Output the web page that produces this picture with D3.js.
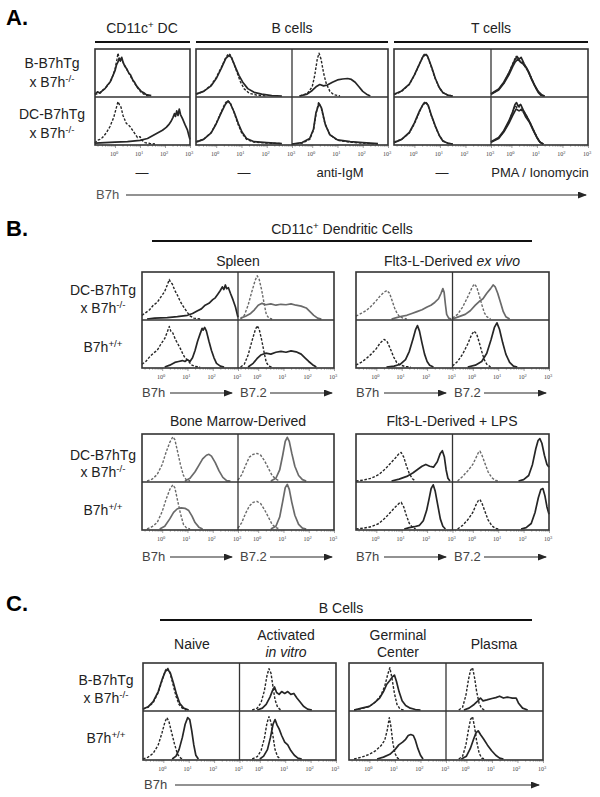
<!DOCTYPE html>
<html lang="en">
<head>
<meta charset="utf-8">
<title>B7h flow histograms</title>
<script src="https://d3js.org/d3.v7.min.js"></script>
<style>
  body { margin: 0; background: #fff; }
</style>
</head>
<body>
<div id="fig"></div>
<script>
// histogram curves: [log10 intensity, relative count]
// --- A. CD11c+ DC
const aDcTop_iso = [[-0.8,0.03],[-0.6,0.08],[-0.45,0.14],[-0.3,0.22],[-0.15,0.35],[0,0.58],[0.08,0.8],[0.12,0.93],[0.18,0.78],[0.25,0.82],[0.32,0.74],[0.45,0.6],[0.6,0.45],[0.75,0.3],[0.9,0.18],[1.05,0.08],[1.2,0.02],[1.4,0]];
const aDcTop_b7h = [[-0.8,0.04],[-0.7,0.09],[-0.6,0.06],[-0.5,0.12],[-0.4,0.16],[-0.3,0.24],[-0.2,0.3],[-0.1,0.42],[0,0.55],[0.06,0.68],[0.12,0.74],[0.17,0.82],[0.22,0.76],[0.27,0.84],[0.33,0.72],[0.4,0.64],[0.48,0.58],[0.55,0.5],[0.62,0.46],[0.7,0.36],[0.78,0.3],[0.86,0.22],[0.95,0.16],[1.05,0.1],[1.15,0.07],[1.25,0.03],[1.45,0.01]];
const aDcBot_iso = [[-0.8,0.02],[-0.72,0.08],[-0.6,0.1],[-0.5,0.14],[-0.35,0.24],[-0.2,0.38],[-0.05,0.58],[0.05,0.78],[0.12,0.92],[0.18,0.85],[0.24,0.8],[0.32,0.62],[0.45,0.45],[0.6,0.38],[0.7,0.3],[0.8,0.22],[0.9,0.14],[1.0,0.16],[1.08,0.08],[1.2,0.03],[1.4,0.01],[1.6,0]];
const aDcBot_b7h = [[-0.8,0.02],[-0.4,0.03],[0,0.04],[0.5,0.05],[1.0,0.08],[1.3,0.12],[1.5,0.18],[1.7,0.24],[1.9,0.3],[2.05,0.36],[2.15,0.42],[2.25,0.5],[2.32,0.58],[2.38,0.66],[2.42,0.6],[2.47,0.72],[2.52,0.62],[2.57,0.76],[2.62,0.64],[2.7,0.55],[2.8,0.42],[2.9,0.3],[2.97,0.15],[3.0,0.1]];
// --- A. B cells, unstimulated
const aB0Top_iso = [[-0.8,0.04],[-0.5,0.1],[-0.2,0.24],[0,0.4],[0.2,0.62],[0.35,0.8],[0.48,0.92],[0.55,0.9],[0.65,0.78],[0.8,0.55],[0.95,0.32],[1.1,0.16],[1.3,0.06],[1.6,0.02],[2.0,0]];
const aB0Top_b7h = [[-0.8,0.04],[-0.5,0.1],[-0.2,0.22],[0,0.38],[0.2,0.6],[0.38,0.82],[0.5,0.88],[0.6,0.84],[0.75,0.64],[0.9,0.45],[1.05,0.3],[1.25,0.16],[1.5,0.08],[1.8,0.04],[2.2,0.01],[2.6,0]];
const aB0Bot_iso = [[-0.8,0.05],[-0.5,0.1],[-0.2,0.25],[0,0.45],[0.2,0.7],[0.35,0.88],[0.45,0.95],[0.55,0.9],[0.7,0.7],[0.85,0.45],[1.0,0.25],[1.2,0.1],[1.5,0.04],[2,0.02],[2.6,0.01]];
const aB0Bot_b7h = [[-0.8,0.04],[-0.5,0.1],[-0.2,0.24],[0,0.44],[0.2,0.68],[0.36,0.86],[0.46,0.93],[0.56,0.88],[0.72,0.68],[0.88,0.44],[1.02,0.26],[1.2,0.12],[1.5,0.05],[2,0.03],[2.6,0.01]];
// --- A. B cells, anti-IgM
const aBmTop_iso = [[-0.5,0],[-0.2,0.05],[0,0.2],[0.1,0.45],[0.2,0.8],[0.27,0.93],[0.35,0.8],[0.45,0.5],[0.55,0.28],[0.7,0.1],[0.85,0.03],[1.1,0]];
const aBmTop_b7h = [[-0.5,0],[-0.2,0.04],[0,0.12],[0.15,0.2],[0.3,0.25],[0.45,0.22],[0.6,0.24],[0.8,0.3],[1.0,0.35],[1.2,0.37],[1.4,0.38],[1.55,0.36],[1.7,0.3],[1.85,0.2],[2.0,0.1],[2.15,0.04],[2.3,0]];
const aBmBot_iso = [[-0.8,0],[-0.4,0.02],[-0.1,0.1],[0.05,0.3],[0.15,0.65],[0.25,0.9],[0.35,0.8],[0.5,0.45],[0.7,0.2],[1.0,0.08],[1.5,0.04],[2,0.02],[2.6,0]];
const aBmBot_b7h = [[-0.8,0],[-0.4,0.03],[-0.1,0.12],[0.05,0.32],[0.15,0.68],[0.27,0.88],[0.37,0.78],[0.52,0.42],[0.7,0.2],[1.0,0.09],[1.5,0.05],[2,0.03],[2.6,0.01]];
// --- A. T cells, unstimulated
const aT0Top_iso = [[-0.8,0.03],[-0.5,0.1],[-0.2,0.25],[0,0.45],[0.2,0.7],[0.35,0.88],[0.42,0.93],[0.5,0.88],[0.65,0.65],[0.8,0.4],[0.95,0.2],[1.1,0.08],[1.3,0.02],[1.5,0]];
const aT0Top_b7h = [[-0.8,0.04],[-0.5,0.11],[-0.2,0.26],[0,0.46],[0.2,0.7],[0.34,0.86],[0.44,0.9],[0.52,0.86],[0.68,0.62],[0.82,0.38],[0.98,0.18],[1.12,0.07],[1.3,0.02],[1.5,0]];
const aT0Bot_iso = [[-0.8,0.04],[-0.5,0.1],[-0.2,0.24],[0,0.44],[0.2,0.7],[0.35,0.88],[0.43,0.92],[0.52,0.86],[0.66,0.62],[0.82,0.38],[0.96,0.2],[1.1,0.08],[1.3,0.02],[1.5,0]];
const aT0Bot_b7h = [[-0.8,0.03],[-0.5,0.1],[-0.2,0.25],[0,0.46],[0.2,0.72],[0.34,0.86],[0.45,0.9],[0.54,0.84],[0.68,0.6],[0.84,0.36],[0.98,0.18],[1.12,0.06],[1.3,0.02],[1.5,0]];
// --- A. T cells, PMA / ionomycin
const aTpTop_iso = [[-0.8,0.04],[-0.5,0.14],[-0.3,0.28],[-0.1,0.5],[0.05,0.7],[0.18,0.86],[0.28,0.78],[0.4,0.76],[0.55,0.62],[0.7,0.5],[0.85,0.3],[1.0,0.14],[1.1,0.05],[1.25,0]];
const aTpTop_b7h = [[-0.8,0.05],[-0.5,0.15],[-0.3,0.3],[-0.1,0.5],[0.05,0.68],[0.15,0.8],[0.22,0.86],[0.3,0.8],[0.38,0.84],[0.5,0.7],[0.65,0.55],[0.8,0.35],[0.95,0.18],[1.05,0.08],[1.15,0.02],[1.3,0]];
const aTpTop_b7h2 = [[-0.8,0.04],[-0.5,0.13],[-0.3,0.27],[-0.1,0.46],[0.05,0.64],[0.15,0.74],[0.25,0.8],[0.35,0.74],[0.45,0.7],[0.6,0.6],[0.75,0.42],[0.9,0.24],[1.05,0.1],[1.2,0.02],[1.3,0]];
const aTpBot_iso = [[-0.8,0.04],[-0.5,0.13],[-0.3,0.27],[-0.1,0.48],[0.05,0.7],[0.15,0.84],[0.22,0.78],[0.3,0.82],[0.42,0.7],[0.55,0.66],[0.7,0.5],[0.85,0.32],[1.0,0.15],[1.1,0.05],[1.25,0]];
const aTpBot_b7h = [[-0.8,0.05],[-0.5,0.14],[-0.3,0.29],[-0.1,0.5],[0.05,0.7],[0.14,0.86],[0.2,0.9],[0.27,0.82],[0.36,0.86],[0.46,0.74],[0.6,0.6],[0.75,0.44],[0.9,0.26],[1.02,0.12],[1.12,0.04],[1.25,0]];
const aTpBot_b7h2 = [[-0.8,0.04],[-0.5,0.12],[-0.3,0.26],[-0.1,0.45],[0.05,0.62],[0.18,0.76],[0.3,0.72],[0.42,0.76],[0.55,0.6],[0.7,0.48],[0.85,0.3],[1.0,0.14],[1.12,0.04],[1.25,0]];

// --- B. Spleen
const bSpB7hTop_iso = [[-0.8,0.08],[-0.65,0.14],[-0.5,0.2],[-0.35,0.3],[-0.2,0.36],[-0.05,0.48],[0.1,0.6],[0.2,0.74],[0.28,0.86],[0.33,0.8],[0.4,0.76],[0.5,0.62],[0.6,0.52],[0.7,0.4],[0.8,0.3],[0.9,0.22],[1.0,0.14],[1.1,0.07],[1.25,0.02],[1.5,0]];
const bSpB7hTop_b7h = [[-0.6,0],[-0.3,0.02],[0.2,0.03],[0.6,0.05],[1.0,0.08],[1.2,0.12],[1.4,0.18],[1.55,0.22],[1.7,0.3],[1.85,0.34],[2.0,0.42],[2.1,0.46],[2.2,0.54],[2.3,0.62],[2.38,0.7],[2.44,0.64],[2.5,0.74],[2.55,0.66],[2.62,0.68],[2.7,0.56],[2.8,0.42],[2.9,0.26],[2.97,0.1],[3.0,0.04]];
const bSpB7hBot_iso = [[-0.8,0.06],[-0.65,0.12],[-0.5,0.22],[-0.35,0.3],[-0.2,0.36],[-0.05,0.5],[0.1,0.62],[0.2,0.76],[0.28,0.88],[0.34,0.78],[0.42,0.74],[0.52,0.6],[0.62,0.5],[0.72,0.4],[0.82,0.28],[0.9,0.2],[0.98,0.16],[1.05,0.12],[1.15,0.05],[1.3,0.01],[1.5,0]];
const bSpB7hBot_b7h = [[0.1,0],[0.3,0.04],[0.5,0.1],[0.65,0.12],[0.8,0.14],[0.9,0.12],[1.0,0.16],[1.1,0.12],[1.2,0.2],[1.3,0.36],[1.4,0.56],[1.5,0.72],[1.58,0.84],[1.62,0.8],[1.68,0.86],[1.75,0.78],[1.85,0.56],[1.95,0.36],[2.05,0.2],[2.15,0.08],[2.3,0.02],[2.45,0]];
const bSpB72Top_iso = [[-0.7,0],[-0.55,0.08],[-0.4,0.3],[-0.25,0.6],[-0.12,0.84],[-0.04,0.94],[0.04,0.86],[0.14,0.62],[0.24,0.32],[0.32,0.1],[0.42,0.02],[0.55,0]];
const bSpB72Top_b7h = [[-0.7,0.02],[-0.5,0.06],[-0.3,0.12],[-0.15,0.2],[0,0.3],[0.15,0.34],[0.3,0.31],[0.5,0.33],[0.7,0.3],[0.9,0.32],[1.1,0.31],[1.3,0.33],[1.5,0.3],[1.7,0.28],[1.9,0.24],[2.05,0.16],[2.2,0.08],[2.35,0.02],[2.5,0]];
const bSpB72Bot_iso = [[-0.7,0],[-0.55,0.06],[-0.4,0.26],[-0.25,0.56],[-0.12,0.8],[-0.04,0.9],[0.04,0.82],[0.14,0.58],[0.24,0.3],[0.32,0.1],[0.42,0.02],[0.55,0]];
const bSpB72Bot_b7h = [[-0.4,0],[-0.2,0.08],[-0.05,0.18],[0.1,0.26],[0.3,0.3],[0.5,0.28],[0.7,0.32],[0.9,0.34],[1.1,0.32],[1.3,0.35],[1.5,0.33],[1.7,0.28],[1.85,0.2],[2.0,0.12],[2.15,0.05],[2.3,0]];
// --- B. Flt3-L ex vivo
const bExB7hTop_iso = [[-0.8,0.06],[-0.6,0.12],[-0.4,0.18],[-0.2,0.28],[0,0.4],[0.15,0.5],[0.3,0.58],[0.42,0.62],[0.52,0.56],[0.62,0.4],[0.72,0.24],[0.82,0.12],[0.92,0.05],[1.05,0.02],[1.2,0]];
const bExB7hTop_b7h = [[0.6,0],[0.8,0.03],[1.0,0.06],[1.2,0.08],[1.4,0.12],[1.6,0.16],[1.8,0.2],[2.0,0.26],[2.15,0.3],[2.3,0.36],[2.45,0.44],[2.55,0.56],[2.62,0.66],[2.67,0.58],[2.72,0.32],[2.77,0.1],[2.85,0.02],[2.95,0]];
const bExB7hBot_iso = [[-0.8,0.04],[-0.6,0.1],[-0.4,0.18],[-0.2,0.28],[0,0.4],[0.15,0.52],[0.3,0.6],[0.42,0.56],[0.55,0.4],[0.68,0.22],[0.8,0.1],[0.95,0.04],[1.15,0.01],[1.35,0]];
const bExB7hBot_b7h = [[0.4,0],[0.7,0.02],[0.95,0.06],[1.15,0.16],[1.3,0.34],[1.45,0.62],[1.55,0.82],[1.62,0.9],[1.7,0.78],[1.8,0.52],[1.9,0.28],[2.0,0.12],[2.1,0.04],[2.25,0]];
const bExB72Top_iso = [[-0.8,0.02],[-0.6,0.1],[-0.4,0.26],[-0.2,0.48],[-0.05,0.66],[0.05,0.76],[0.15,0.7],[0.25,0.52],[0.35,0.32],[0.45,0.14],[0.55,0.05],[0.7,0]];
const bExB72Top_b7h = [[-0.8,0],[-0.6,0.04],[-0.3,0.1],[-0.1,0.18],[0.1,0.3],[0.25,0.38],[0.4,0.44],[0.55,0.56],[0.7,0.66],[0.8,0.74],[0.88,0.7],[0.98,0.56],[1.1,0.34],[1.2,0.16],[1.3,0.05],[1.45,0]];
const bExB72Bot_iso = [[-0.8,0.02],[-0.6,0.12],[-0.4,0.28],[-0.2,0.5],[-0.05,0.7],[0.05,0.78],[0.15,0.72],[0.25,0.54],[0.35,0.34],[0.45,0.16],[0.55,0.06],[0.7,0]];
const bExB72Bot_b7h = [[-0.2,0],[0.1,0.04],[0.35,0.12],[0.55,0.3],[0.72,0.6],[0.85,0.86],[0.95,0.96],[1.05,0.82],[1.18,0.52],[1.3,0.28],[1.45,0.1],[1.6,0.02],[1.75,0]];
// --- B. Bone marrow-derived
const bBmB7hTop_iso = [[-0.6,0],[-0.4,0.04],[-0.2,0.14],[0,0.36],[0.15,0.62],[0.3,0.84],[0.42,0.96],[0.5,0.9],[0.6,0.66],[0.72,0.36],[0.84,0.12],[0.95,0.03],[1.1,0]];
const bBmB7hTop_b7h = [[0.9,0],[1.1,0.06],[1.3,0.2],[1.45,0.34],[1.6,0.48],[1.75,0.56],[1.85,0.58],[1.95,0.54],[2.1,0.4],[2.25,0.22],[2.4,0.08],[2.55,0.01],[2.7,0]];
const bBmB7hBot_iso = [[-0.6,0],[-0.4,0.05],[-0.2,0.14],[0,0.38],[0.15,0.64],[0.3,0.86],[0.42,0.96],[0.5,0.9],[0.6,0.64],[0.72,0.34],[0.84,0.1],[0.95,0.03],[1.1,0]];
const bBmB7hBot_b7h = [[-0.1,0],[0.1,0.06],[0.3,0.22],[0.45,0.36],[0.6,0.44],[0.75,0.46],[0.9,0.45],[1.05,0.4],[1.18,0.28],[1.3,0.14],[1.45,0.04],[1.6,0]];
const bBmB72Top_iso = [[-0.8,0.02],[-0.65,0.14],[-0.5,0.34],[-0.35,0.52],[-0.2,0.58],[-0.05,0.6],[0.1,0.56],[0.25,0.44],[0.4,0.28],[0.55,0.12],[0.7,0.04],[0.85,0]];
const bBmB72Top_b7h = [[0.5,0],[0.7,0.06],[0.85,0.24],[0.97,0.56],[1.07,0.86],[1.15,0.95],[1.23,0.86],[1.33,0.6],[1.45,0.32],[1.6,0.12],[1.75,0.03],[1.9,0]];
const bBmB72Bot_iso = [[-0.8,0.02],[-0.65,0.14],[-0.5,0.34],[-0.35,0.5],[-0.2,0.58],[-0.05,0.6],[0.1,0.55],[0.25,0.42],[0.4,0.26],[0.55,0.1],[0.7,0.03],[0.85,0]];
const bBmB72Bot_b7h = [[0.5,0],[0.7,0.06],[0.85,0.26],[0.97,0.6],[1.07,0.9],[1.15,0.97],[1.23,0.86],[1.33,0.58],[1.45,0.3],[1.6,0.1],[1.75,0.02],[1.9,0]];
// --- B. Flt3-L-derived + LPS
const bLpB7hTop_iso = [[-0.8,0],[-0.5,0.02],[-0.2,0.06],[0.1,0.14],[0.35,0.26],[0.55,0.38],[0.75,0.5],[0.9,0.6],[0.98,0.62],[1.08,0.52],[1.18,0.34],[1.3,0.16],[1.42,0.05],[1.55,0]];
const bLpB7hTop_b7h = [[0.6,0],[0.9,0.04],[1.2,0.1],[1.45,0.18],[1.65,0.26],[1.8,0.32],[1.95,0.36],[2.1,0.32],[2.25,0.3],[2.4,0.42],[2.52,0.6],[2.6,0.66],[2.68,0.52],[2.75,0.24],[2.82,0.06],[2.9,0]];
const bLpB7hBot_iso = [[-0.8,0],[-0.5,0.02],[-0.2,0.05],[0.1,0.12],[0.35,0.24],[0.55,0.36],[0.75,0.48],[0.9,0.56],[0.98,0.58],[1.08,0.48],[1.18,0.3],[1.3,0.12],[1.42,0.04],[1.55,0]];
const bLpB7hBot_b7h = [[1.1,0],[1.3,0.03],[1.5,0.05],[1.7,0.08],[1.85,0.18],[1.98,0.4],[2.08,0.66],[2.16,0.88],[2.24,0.96],[2.32,0.82],[2.42,0.52],[2.52,0.22],[2.62,0.06],[2.72,0]];
const bLpB72Top_iso = [[-0.6,0],[-0.4,0.1],[-0.2,0.22],[0,0.36],[0.12,0.5],[0.22,0.62],[0.28,0.65],[0.36,0.56],[0.48,0.38],[0.6,0.2],[0.75,0.07],[0.9,0.01],[1.05,0]];
const bLpB72Top_b7h = [[1.8,0],[2.0,0.03],[2.2,0.12],[2.35,0.36],[2.48,0.7],[2.57,0.88],[2.64,0.92],[2.72,0.82],[2.82,0.56],[2.92,0.36],[3.0,0.3]];
const bLpB72Bot_iso = [[-0.6,0],[-0.4,0.08],[-0.2,0.2],[0,0.36],[0.12,0.52],[0.22,0.62],[0.28,0.64],[0.36,0.56],[0.48,0.38],[0.6,0.2],[0.75,0.07],[0.9,0.01],[1.05,0]];
const bLpB72Bot_b7h = [[1.9,0],[2.1,0.03],[2.3,0.12],[2.45,0.36],[2.58,0.68],[2.68,0.86],[2.76,0.88],[2.84,0.72],[2.92,0.48],[3.0,0.32]];

// --- C. B cells
const cNaTop_iso = [[-0.8,0.02],[-0.6,0.06],[-0.4,0.16],[-0.2,0.38],[-0.05,0.64],[0.08,0.86],[0.16,0.92],[0.26,0.82],[0.38,0.56],[0.5,0.3],[0.62,0.12],[0.75,0.04],[0.9,0]];
const cNaTop_b7h = [[-0.8,0.02],[-0.6,0.07],[-0.4,0.18],[-0.2,0.4],[-0.05,0.66],[0.08,0.84],[0.18,0.88],[0.28,0.8],[0.4,0.58],[0.52,0.34],[0.65,0.14],[0.8,0.04],[1.0,0]];
const cNaBot_iso = [[-0.8,0],[-0.6,0.04],[-0.4,0.12],[-0.2,0.3],[-0.05,0.56],[0.06,0.78],[0.14,0.88],[0.22,0.8],[0.32,0.58],[0.44,0.32],[0.56,0.1],[0.68,0.02],[0.8,0]];
const cNaBot_b7h = [[0.35,0],[0.5,0.06],[0.62,0.2],[0.75,0.46],[0.86,0.74],[0.96,0.88],[1.04,0.84],[1.12,0.6],[1.2,0.3],[1.28,0.08],[1.38,0]];
const cAcTop_iso = [[-0.3,0],[-0.1,0.04],[0.05,0.16],[0.18,0.42],[0.28,0.74],[0.36,0.9],[0.44,0.8],[0.52,0.5],[0.6,0.22],[0.7,0.06],[0.82,0]];
const cAcTop_b7h = [[-0.1,0],[0.1,0.04],[0.25,0.12],[0.4,0.28],[0.5,0.42],[0.58,0.5],[0.66,0.38],[0.76,0.34],[0.86,0.4],[0.98,0.36],[1.1,0.4],[1.22,0.34],[1.34,0.36],[1.46,0.26],[1.58,0.18],[1.72,0.08],[1.88,0.02],[2.05,0]];
const cAcBot_iso = [[-0.3,0],[-0.1,0.05],[0.05,0.18],[0.18,0.44],[0.28,0.76],[0.36,0.9],[0.44,0.78],[0.52,0.48],[0.6,0.2],[0.7,0.05],[0.82,0]];
const cAcBot_b7h = [[0,0],[0.15,0.06],[0.3,0.2],[0.42,0.46],[0.52,0.74],[0.6,0.84],[0.68,0.72],[0.76,0.64],[0.86,0.5],[0.98,0.36],[1.1,0.3],[1.22,0.18],[1.36,0.08],[1.5,0.02],[1.65,0]];
const cGcTop_iso = [[-0.6,0],[-0.3,0.03],[0,0.08],[0.25,0.18],[0.45,0.32],[0.6,0.52],[0.72,0.78],[0.8,0.92],[0.88,0.7],[0.98,0.36],[1.08,0.12],[1.2,0.02],[1.35,0]];
const cGcTop_b7h = [[-0.6,0],[-0.3,0.04],[0,0.08],[0.2,0.16],[0.4,0.26],[0.55,0.4],[0.68,0.56],[0.8,0.64],[0.9,0.72],[0.98,0.76],[1.06,0.62],[1.16,0.4],[1.28,0.2],[1.42,0.1],[1.6,0.04],[1.8,0.01],[2.0,0]];
const cGcBot_iso = [[-0.6,0],[-0.3,0.04],[0,0.1],[0.25,0.18],[0.45,0.28],[0.6,0.4],[0.7,0.62],[0.78,0.88],[0.84,0.7],[0.92,0.34],[1.0,0.12],[1.1,0.02],[1.2,0]];
const cGcBot_b7h = [[0.3,0],[0.55,0.04],[0.8,0.1],[1.0,0.2],[1.15,0.3],[1.3,0.36],[1.42,0.42],[1.52,0.5],[1.62,0.52],[1.72,0.5],[1.8,0.4],[1.9,0.22],[2.0,0.08],[2.1,0]];
const cPlTop_iso = [[-0.3,0],[-0.15,0.06],[-0.02,0.32],[0.08,0.66],[0.16,0.86],[0.24,0.92],[0.32,0.7],[0.4,0.4],[0.5,0.14],[0.6,0.03],[0.72,0]];
const cPlTop_b7h = [[-0.1,0],[0.1,0.04],[0.3,0.12],[0.45,0.2],[0.55,0.26],[0.65,0.2],[0.8,0.22],[1.0,0.25],[1.15,0.27],[1.3,0.3],[1.45,0.26],[1.6,0.28],[1.8,0.26],[1.95,0.26],[2.05,0.14],[2.2,0.04],[2.4,0]];
const cPlBot_iso = [[-0.3,0],[-0.15,0.06],[-0.02,0.3],[0.08,0.62],[0.16,0.84],[0.24,0.9],[0.32,0.68],[0.4,0.38],[0.5,0.12],[0.6,0.02],[0.72,0]];
const cPlBot_b7h = [[-0.2,0],[0,0.06],[0.15,0.22],[0.28,0.42],[0.38,0.56],[0.46,0.6],[0.55,0.52],[0.68,0.42],[0.82,0.3],[0.98,0.18],[1.15,0.08],[1.3,0.02],[1.45,0]];

const tickExps = [0, 1, 2, 3];
const xDomainExp = [-0.8, 3];

const FONT = "'Liberation Sans', Arial, Helvetica, sans-serif";
const INK = "#262626";
const GREY = "#6a6a6a";

const svg = d3.select("#fig").append("svg")
  .attr("width", 600).attr("height", 797)
  .attr("viewBox", [0, 0, 600, 797])
  .style("background", "#fff");

svg.append("defs").append("marker")
  .attr("id", "arr")
  .attr("markerUnits", "userSpaceOnUse")
  .attr("markerWidth", 9).attr("markerHeight", 7)
  .attr("refX", 8).attr("refY", 3.5)
  .attr("orient", "auto")
  .append("path").attr("d", "M0,0L9,3.5L0,7Z").attr("fill", INK);

// text with optional superscript / italic pieces
function label(x, y, parts, o = {}) {
  const t = svg.append("text")
    .attr("x", x).attr("y", y)
    .attr("text-anchor", o.anchor || "start")
    .attr("font-family", FONT)
    .attr("font-size", o.size || 14)
    .attr("font-weight", o.weight || "normal")
    .attr("fill", o.fill || "#222");
  let shifted = false;
  parts.forEach(p => {
    if (typeof p === "string") p = { t: p };
    const s = t.append("tspan").text(p.t);
    if (p.sup) {
      s.attr("font-size", (o.size || 14) * 0.7).attr("dy", -5);
      shifted = true;
    } else if (shifted) {
      s.attr("dy", 5);
      shifted = false;
    }
    if (p.it) s.attr("font-style", "italic");
  });
  return t;
}

function hline(x1, x2, y, w = 2) {
  svg.append("line").attr("x1", x1).attr("x2", x2).attr("y1", y).attr("y2", y)
    .attr("stroke", "#111").attr("stroke-width", w);
}

function arrow(x1, x2, y) {
  svg.append("line").attr("x1", x1).attr("x2", x2 - 2).attr("y1", y).attr("y2", y)
    .attr("stroke", INK).attr("stroke-width", 1.1)
    .attr("marker-end", "url(#arr)");
}

// a block of panels side by side, two rows each
function block(x0, yTop, yMid, yBot, pw, panels) {
  const g = svg.append("g");
  panels.forEach((rows, i) => {
    const px = x0 + i * pw;
    const x = d3.scaleLog().domain(xDomainExp.map(e => 10 ** e)).range([px, px + pw]);
    [[yTop, yMid], [yMid, yBot]].forEach(([ya, yb], r) => {
      const y = d3.scaleLinear().domain([0, 1]).range([yb - 1, ya + 1]);
      const line = d3.line().x(d => x(10 ** d[0])).y(d => y(d[1]));
      rows[r].forEach(c => {
        g.append("path")
          .datum(c.d)
          .attr("d", line)
          .attr("fill", "none")
          .attr("stroke", c.grey ? GREY : INK)
          .attr("stroke-width", c.dash ? 1.4 : 1.7)
          .attr("stroke-dasharray", c.dash ? "2.6,1.6" : null)
          .attr("stroke-linejoin", "round");
      });
    });

    // minor and major log ticks under each panel
    const minor = [];
    for (let k = -1; k < 3; k++) for (let m = 2; m < 10; m++) {
      const v = m * 10 ** k;
      if (v > 10 ** xDomainExp[0] && v < 1000) minor.push(v);
    }
    g.append("g").attr("transform", `translate(0,${yBot})`)
      .call(d3.axisBottom(x).tickValues(minor).tickSize(2).tickFormat(""))
      .call(a => a.select(".domain").remove())
      .call(a => a.selectAll("line").attr("stroke", "#999").attr("stroke-width", 0.6));
    g.append("g").attr("transform", `translate(0,${yBot})`)
      .call(d3.axisBottom(x).tickValues(tickExps.map(e => 10 ** e)).tickSize(3).tickFormat(""))
      .call(a => a.select(".domain").remove())
      .call(a => a.selectAll("line").attr("stroke", "#777").attr("stroke-width", 0.7));
    tickExps.forEach(e => {
      const t = g.append("text")
        .attr("x", x(10 ** e) - 1).attr("y", yBot + 11)
        .attr("text-anchor", "middle")
        .attr("font-family", "'Liberation Serif', serif")
        .attr("font-size", 6).attr("fill", "#444");
      t.append("tspan").text("10");
      t.append("tspan").text(e).attr("font-size", 4.5).attr("dy", -2.5);
    });

    if (i > 0) {
      g.append("line").attr("x1", px).attr("x2", px).attr("y1", yTop).attr("y2", yBot)
        .attr("stroke", "#333").attr("stroke-width", 1.3);
    }
  });
  const w = pw * panels.length;
  g.append("line").attr("x1", x0).attr("x2", x0 + w).attr("y1", yMid).attr("y2", yMid)
    .attr("stroke", "#333").attr("stroke-width", 1.3);
  g.append("rect").attr("x", x0).attr("y", yTop).attr("width", w).attr("height", yBot - yTop)
    .attr("fill", "none").attr("stroke", "#333").attr("stroke-width", 1.6);
}

const S = (d, grey) => ({ d, grey });
const D = (d, grey) => ({ d, dash: true, grey });

// ================= A =================
label(6, 25, ["A."], { size: 22, weight: "bold", fill: "#000" });
label(142, 33, ["CD11c", { t: "+", sup: true }, " DC"], { anchor: "middle" });
label(292, 33, ["B cells"], { anchor: "middle" });
label(491, 33, ["T cells"], { anchor: "middle" });
hline(95, 190, 42); hline(196, 388, 42); hline(394, 588, 42);

label(52, 68, ["B-B7hTg"], { anchor: "middle" });
label(52, 87, ["x B7h", { t: "-/-", sup: true }], { anchor: "middle" });
label(52, 119, ["DC-B7hTg"], { anchor: "middle" });
label(52, 138, ["x B7h", { t: "-/-", sup: true }], { anchor: "middle" });

block(95, 49, 97, 145, 95, [
  [[D(aDcTop_iso), S(aDcTop_b7h)], [D(aDcBot_iso), S(aDcBot_b7h)]]
]);
block(196, 49, 97, 145, 96, [
  [[D(aB0Top_iso), S(aB0Top_b7h)], [D(aB0Bot_iso), S(aB0Bot_b7h)]],
  [[D(aBmTop_iso), S(aBmTop_b7h)], [D(aBmBot_iso), S(aBmBot_b7h)]]
]);
block(394, 49, 97, 145, 97, [
  [[D(aT0Top_iso), S(aT0Top_b7h)], [D(aT0Bot_iso), S(aT0Bot_b7h)]],
  [[D(aTpTop_iso), S(aTpTop_b7h), S(aTpTop_b7h2)], [D(aTpBot_iso), S(aTpBot_b7h), S(aTpBot_b7h2)]]
]);

label(142, 177, ["\u2014"], { anchor: "middle", size: 13 });
label(244, 177, ["\u2014"], { anchor: "middle", size: 13 });
label(340, 177, ["anti-IgM"], { anchor: "middle", size: 13 });
label(442, 177, ["\u2014"], { anchor: "middle", size: 13 });
label(540, 177, ["PMA / Ionomycin"], { anchor: "middle", size: 13 });
label(96, 199, ["B7h"], { size: 13, fill: "#555" });
arrow(126, 588, 195);

// ================= B =================
label(6, 236, ["B."], { size: 22, weight: "bold", fill: "#000" });
label(342, 234, ["CD11c", { t: "+", sup: true }, " Dendritic Cells"], { anchor: "middle" });
hline(152, 532, 241);
label(238, 266, ["Spleen"], { anchor: "middle" });
label(452, 266, ["Flt3-L-Derived ", { t: "ex vivo", it: true }], { anchor: "middle" });

label(103, 295, ["DC-B7hTg"], { anchor: "middle" });
label(103, 313, ["x B7h", { t: "-/-", sup: true }], { anchor: "middle" });
label(103, 352, ["B7h", { t: "+/+", sup: true }], { anchor: "middle" });

block(142, 272, 320, 368, 96, [
  [[D(bSpB7hTop_iso), S(bSpB7hTop_b7h)], [D(bSpB7hBot_iso), S(bSpB7hBot_b7h)]],
  [[D(bSpB72Top_iso, true), S(bSpB72Top_b7h, true)], [D(bSpB72Bot_iso), S(bSpB72Bot_b7h)]]
]);
block(356, 272, 320, 368, 96.5, [
  [[D(bExB7hTop_iso, true), S(bExB7hTop_b7h, true)], [D(bExB7hBot_iso), S(bExB7hBot_b7h)]],
  [[D(bExB72Top_iso, true), S(bExB72Top_b7h, true)], [D(bExB72Bot_iso), S(bExB72Bot_b7h)]]
]);

function markerRow(x0, y) {
  label(x0, y, ["B7h"], { size: 13, fill: "#444" });
  arrow(x0 + 28, x0 + 92, y - 4);
  label(x0 + 98, y, ["B7.2"], { size: 13, fill: "#444" });
  arrow(x0 + 128, x0 + 192, y - 4);
}
markerRow(142, 397);
markerRow(356, 397);

label(238, 426, ["Bone Marrow-Derived"], { anchor: "middle" });
label(452, 426, ["Flt3-L-Derived + LPS"], { anchor: "middle" });

label(103, 460, ["DC-B7hTg"], { anchor: "middle" });
label(103, 477, ["x B7h", { t: "-/-", sup: true }], { anchor: "middle" });
label(103, 515, ["B7h", { t: "+/+", sup: true }], { anchor: "middle" });

block(142, 434, 482, 530, 96, [
  [[D(bBmB7hTop_iso, true), S(bBmB7hTop_b7h, true)], [D(bBmB7hBot_iso, true), S(bBmB7hBot_b7h, true)]],
  [[D(bBmB72Top_iso, true), S(bBmB72Top_b7h, true)], [D(bBmB72Bot_iso, true), S(bBmB72Bot_b7h, true)]]
]);
block(356, 434, 482, 530, 96.5, [
  [[D(bLpB7hTop_iso), S(bLpB7hTop_b7h)], [D(bLpB7hBot_iso), S(bLpB7hBot_b7h)]],
  [[D(bLpB72Top_iso, true), S(bLpB72Top_b7h)], [D(bLpB72Bot_iso), S(bLpB72Bot_b7h)]]
]);
markerRow(142, 561);
markerRow(356, 561);

// ================= C =================
label(6, 611, ["C."], { size: 22, weight: "bold", fill: "#000" });
label(341, 613, ["B Cells"], { anchor: "middle" });
hline(160, 532, 620);
label(192, 649, ["Naive"], { anchor: "middle" });
label(286, 640, ["Activated"], { anchor: "middle" });
label(286, 657, [{ t: "in vitro", it: true }], { anchor: "middle" });
label(398, 640, ["Germinal"], { anchor: "middle" });
label(398, 657, ["Center"], { anchor: "middle" });
label(494, 649, ["Plasma"], { anchor: "middle" });

label(106, 685, ["B-B7hTg"], { anchor: "middle" });
label(106, 703, ["x B7h", { t: "-/-", sup: true }], { anchor: "middle" });
label(106, 743, ["B7h", { t: "+/+", sup: true }], { anchor: "middle" });

block(143, 663, 711, 760, 96.5, [
  [[D(cNaTop_iso), S(cNaTop_b7h)], [D(cNaBot_iso), S(cNaBot_b7h)]],
  [[D(cAcTop_iso), S(cAcTop_b7h)], [D(cAcBot_iso), S(cAcBot_b7h)]]
]);
block(349, 663, 711, 760, 97, [
  [[D(cGcTop_iso), S(cGcTop_b7h)], [D(cGcBot_iso), S(cGcBot_b7h)]],
  [[D(cPlTop_iso), S(cPlTop_b7h)], [D(cPlBot_iso), S(cPlBot_b7h)]]
]);
label(144, 789, ["B7h"], { size: 13, fill: "#444" });
arrow(175, 541, 785);
</script>
</body>
</html>
